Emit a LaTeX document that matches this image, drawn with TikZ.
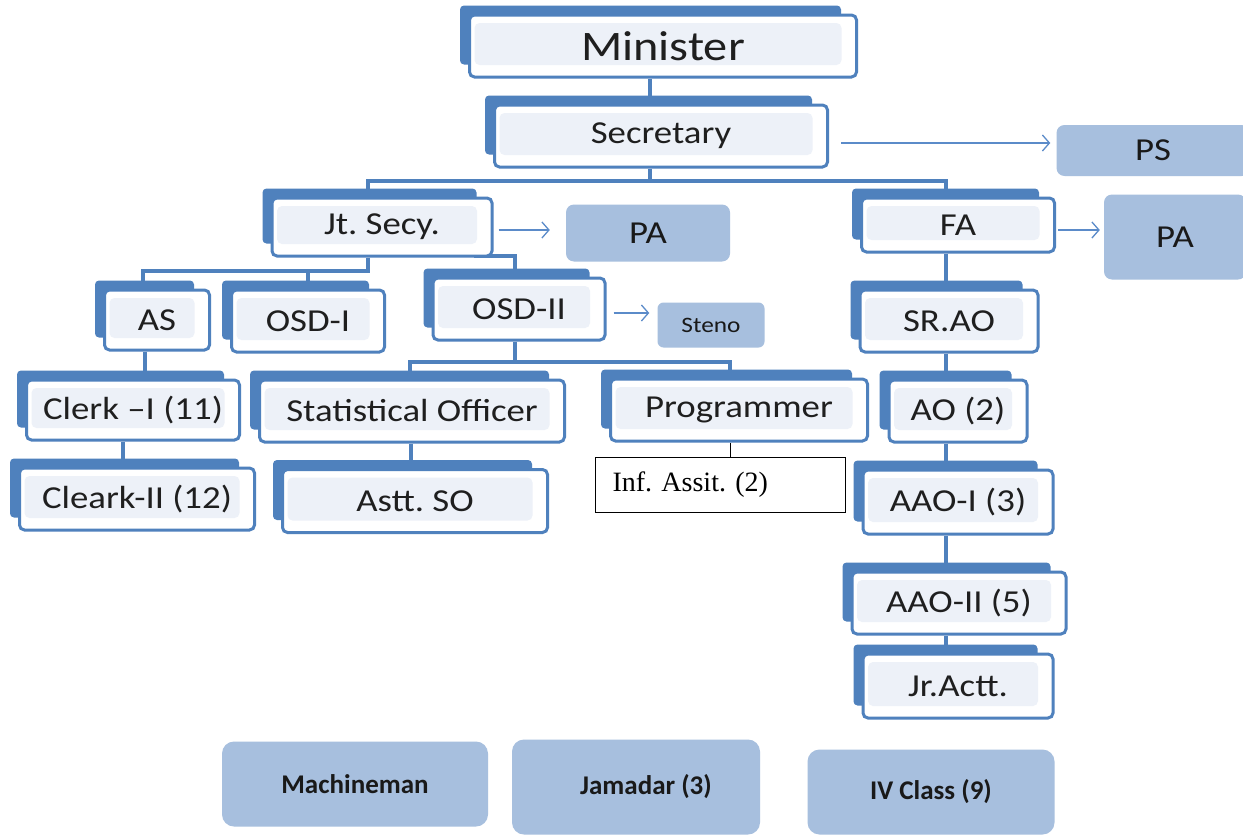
\documentclass[tikz,border=0pt]{standalone}
\usepackage{fontspec}
\newfontfamily\calstr[FakeStretch=1.15]{Carlito}
\newfontfamily\calplain{Carlito}
\newfontfamily\tmsfont{Liberation Serif}
\usetikzlibrary{arrows.meta,backgrounds}
\definecolor{dkblue}{HTML}{4F81BD}
\definecolor{ltblue}{HTML}{A7BFDE}
\definecolor{tint}{HTML}{EDF1F8}
\definecolor{arrblue}{HTML}{5B8BC9}
\tikzset{
  front/.style={draw=dkblue, line width=3pt, fill=white, rounded corners=5pt, inner sep=0pt,
    text=black!88, font=\calstr\fontsize{32}{36}\selectfont,
    path picture={\fill[tint] ([shift={(5pt,12pt)}]path picture bounding box.south west)
      rectangle ([shift={(-15pt,-8pt)}]path picture bounding box.north east);}},
  soft/.style={fill=ltblue, rounded corners=8pt, inner sep=0pt, text=black!90,
    font=\calstr\fontsize{32}{36}\selectfont},
  bottombox/.style={soft, rounded corners=12pt, font=\calplain\bfseries\fontsize{27}{30}\selectfont},
  plainbox/.style={draw=black, line width=1pt, fill=white, inner sep=0pt,
    font=\tmsfont\fontsize{28}{32}\selectfont, text width=215pt, align=left},
  conn/.style={draw=dkblue, line width=4pt},
  thinconn/.style={draw=black, line width=1pt},
  arr/.style={draw=arrblue, line width=1.3pt, -{Straight Barb[length=7pt,width=16pt]}},
}
\begin{document}
\frenchspacing
\begin{tikzpicture}[x=1pt,y=-1pt]
\useasboundingbox (0,0) rectangle (1243,835);
% hierarchy boxes
\node[front, minimum width=387pt, minimum height=62pt, font=\calstr\fontsize{42}{48}\selectfont] (min) at (663,46) {Minister};
\node[front, minimum width=333pt, minimum height=62pt] (sec) at (661,136) {Secretary};
\node[front, minimum width=220pt, minimum height=58pt] (jt) at (382,227) {Jt. Secy.};
\node[front, minimum width=193pt, minimum height=54pt] (fa) at (958,225) {FA};
\node[front, minimum width=105pt, minimum height=60pt] (as) at (157,320) {AS};
\node[front, minimum width=153pt, minimum height=62pt] (osd1) at (308,321) {OSD-I};
\node[front, minimum width=172pt, minimum height=62pt] (osd2) at (519,309) {OSD-II};
\node[front, minimum width=178pt, minimum height=62pt] (srao) at (949,321) {SR.AO};
\node[front, minimum width=213pt, minimum height=60pt] (clerk1) at (133,410) {Clerk –I (11)};
\node[front, minimum width=305pt, minimum height=62pt] (so) at (412,411) {Statistical Officer};
\node[front, minimum width=257pt, minimum height=62pt] (prog) at (739,410) {Programmer};
\node[front, minimum width=138pt, minimum height=62pt] (ao) at (958,411) {AO (2)};
\node[front, minimum width=235pt, minimum height=62pt] (clerk2) at (137,499) {Cleark-II (12)};
\node[front, minimum width=265pt, minimum height=63pt] (astt) at (415,501) {Astt. SO};
\node[front, minimum width=190pt, minimum height=64pt] (aao1) at (958,502) {AAO-I (3)};
\node[front, minimum width=214pt, minimum height=62pt] (aao2) at (959,603) {AAO-II (5)};
\node[front, minimum width=190pt, minimum height=64pt] (jr) at (958,686) {Jr.Actt.};
% side boxes
\node[soft, minimum width=193pt, minimum height=51pt] (ps) at (1153,150.5) {PS};
\node[soft, minimum width=164pt, minimum height=57pt] (pa1) at (648,233) {PA};
\node[soft, minimum width=142pt, minimum height=85pt] (pa2) at (1175,237) {PA};
\node[soft, minimum width=107pt, minimum height=45pt, rounded corners=6pt, font=\calstr\fontsize{22}{26}\selectfont] (steno) at (711,325) {Steno};
\node[plainbox, minimum width=250pt, minimum height=55pt] (inf) at (720,485) {Inf. Assit. (2)};
% bottom boxes
\node[bottombox, minimum width=266pt, minimum height=85pt] (mach) at (355,784) {Machineman};
\node[bottombox, minimum width=248pt, minimum height=95pt] (jam) at (636,787) {\hspace*{20pt}Jamadar (3)};
\node[bottombox, minimum width=247pt, minimum height=85pt] (iv) at (931,792) {IV Class (9)};
% arrows
\draw[arr] ([xshift=12pt,yshift=-7pt]sec.east) -- ([xshift=-6pt,yshift=7.5pt]ps.west);
\draw[arr] ([xshift=5pt,yshift=-3pt]jt.east) -- ([xshift=-16pt,yshift=3pt]pa1.west);
\draw[arr] ([xshift=2pt,yshift=-5pt]fa.east) -- ([xshift=-4pt,yshift=7pt]pa2.west);
\draw[arr] ([xshift=7pt,yshift=-4pt]osd2.east) -- ([xshift=-8pt,yshift=12pt]steno.west);
\begin{scope}[on background layer]
  \fill[white] (0,0) rectangle (1243,835);
  \foreach \n in {min,sec,jt,fa,as,osd1,osd2,srao,clerk1,so,prog,ao,clerk2,astt,aao1,aao2,jr}
    \fill[dkblue, rounded corners=4pt] ([shift={(-8pt,8pt)}]\n.north west) rectangle ([shift={(-17pt,14pt)}]\n.south east);
  % connectors
  \coordinate (sbr) at (650,181);
  \coordinate (jb) at (368,271);
  \coordinate (ob) at (515,362);
  \draw[conn] ([xshift=-13pt]min.south) |- (sec.center);
  \draw[conn] ([xshift=-11pt]sec.south) -- (sbr);
  \draw[conn] ([xshift=-14pt]jt.north) |- (sbr) -| ([xshift=-12pt]fa.north);
  \draw[conn] ([xshift=-14pt]jt.south) -- (jb) -| ([xshift=-14pt]as.north);
  \draw[conn] (osd1.north |- jb) -- (osd1.north);
  \draw[conn] ([shift={(-20pt,2pt)}]jt.south east) -| ([xshift=-4pt]osd2.north);
  \draw[conn] ([xshift=-4pt]osd2.south) -- (ob);
  \draw[conn] ([xshift=-2pt]so.north) |- (ob) -| ([xshift=-9pt]prog.north);
  \draw[conn] ([xshift=-12pt]fa.south) |- (srao.center);
  \draw[conn] ([xshift=-3pt]srao.south) |- (ao.center);
  \draw[conn] ([xshift=-12pt]ao.south) |- (aao1.center);
  \draw[conn] ([xshift=-12pt]aao1.south) |- (aao2.center);
  \draw[conn] ([xshift=-13pt]aao2.south) |- (jr.center);
  \draw[conn] ([xshift=-12pt]as.south) |- (clerk1.center);
  \draw[conn] ([xshift=-10pt]clerk1.south) |- (clerk2.center);
  \draw[conn] ([xshift=-1pt]so.south) |- (astt.center);
  \draw[thinconn] ([xshift=-9pt]prog.south) |- (inf.center);
\end{scope}
\end{tikzpicture}
\end{document}
